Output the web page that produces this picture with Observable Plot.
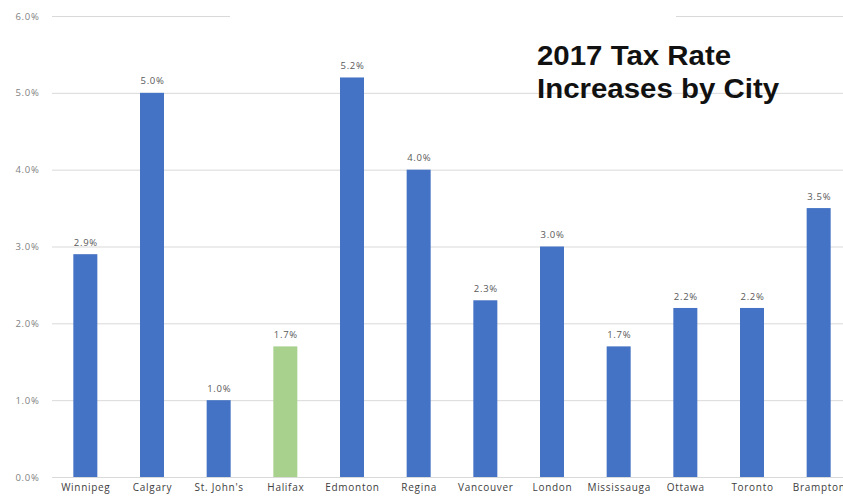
<!DOCTYPE html>
<html>
<head>
<meta charset="utf-8">
<script src="https://cdn.jsdelivr.net/npm/d3@7"></script>
<script src="https://cdn.jsdelivr.net/npm/@observablehq/plot@0.6"></script>
<style>
  html, body { margin: 0; padding: 0; background: #fff; overflow: hidden; width: 843px; height: 498px; }
  #wrap { position: relative; width: 843px; height: 498px; overflow: hidden; }
  #chart svg { max-width: none !important; }
  #chart svg text { letter-spacing: 0.7px; }
  #cover { position: absolute; left: 230px; top: 8px; width: 446px; height: 16px; background: #fff; }
  #title { position: absolute; left: 537px; top: 40px; font-family: "Liberation Sans", Arial, sans-serif; font-weight: bold; font-size: 27px; line-height: 33px; color: #111; transform-origin: left top; transform: scaleX(1.09); white-space: nowrap; }
</style>
</head>
<body>
<div id="wrap">
  <div id="chart"></div>
  <div id="cover"></div>
  <div id="title">2017 Tax Rate<br>Increases by City</div>
</div>
<script>
const cities = ["Winnipeg", "Calgary", "St. John's", "Halifax", "Edmonton", "Regina", "Vancouver", "London", "Mississauga", "Ottawa", "Toronto", "Brampton"];
const rates = [2.9, 5.0, 1.0, 1.7, 5.2, 4.0, 2.3, 3.0, 1.7, 2.2, 2.2, 3.5];
const highlight = ["Halifax"];
const yTicks = [0, 1, 2, 3, 4, 5, 6];

const data = cities.map((c, i) => ({city: c, rate: rates[i]}));
const pct = d => d.toFixed(1) + "%";

const chart = Plot.plot({
  width: 860,
  height: 498,
  marginLeft: 52,
  marginRight: 8,
  marginTop: 16,
  marginBottom: 21,
  style: {fontFamily: "'Open Sans', sans-serif", background: "#fff"},
  x: {domain: cities, paddingInner: 0.64, paddingOuter: 0.32, round: false, label: null},
  y: {domain: [0, 6], label: null},
  marks: [
    Plot.gridY(yTicks, {stroke: "#d9d9d9", strokeOpacity: 1, strokeWidth: 1}),
    Plot.barY(data, {x: "city", y: "rate", fill: d => highlight.includes(d.city) ? "#A9D18E" : "#4472C4"}),
    Plot.text(data, {x: "city", y: "rate", text: d => pct(d.rate), dy: -12, fontSize: 9.5, fill: "#595959"}),
    Plot.axisY({ticks: yTicks, tickFormat: pct, tickSize: 0, tickPadding: 13, fontSize: 9.5, fill: "#7f7f7f", label: null}),
    Plot.axisX({tickSize: 0, tickPadding: 6, fontSize: 10, fill: "#404040", label: null})
  ]
});
document.getElementById("chart").appendChild(chart);
</script>
</body>
</html>
